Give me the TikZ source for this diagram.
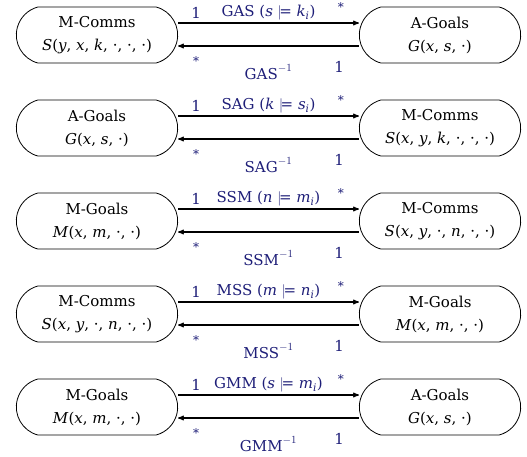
\documentclass[tikz,border=0pt]{standalone}
\usepackage{amsmath,amssymb}
\usepackage{fontspec}
\setmainfont{DejaVu Serif}
\usetikzlibrary{arrows,shapes.misc}
\definecolor{labblue}{RGB}{30,30,120}
\newcommand{\vv}[1]{\textit{#1}}
\newcommand{\sub}[1]{\textsubscript{\textit{#1}}}

\begin{document}
\begin{tikzpicture}[x=1pt,y=-1pt,>=stealth',
		box/.style={draw,line width=0.8pt,rounded rectangle,rounded rectangle arc length=150,
			minimum width=168pt,minimum height=56pt,align=center,
			font=\fontsize{15}{23}\selectfont},
		lab/.style={text=labblue,font=\fontsize{15}{18}\selectfont,inner sep=0pt},
		mult/.style={text=labblue,font=\fontsize{12}{14}\selectfont,inner sep=0pt}]
		\useasboundingbox (0,0) rectangle (527,456);
		% row 1
		\node[box] (l1) at (97,35) {M-Comms\\\vv{S}(\vv{y}, \vv{x}, \vv{k}, ·, ·, ·)};
		\node[box] (r1) at (440,35) {A-Goals\\\vv{G}(\vv{x}, \vv{s}, ·)};
		% row 2
		\node[box] (l2) at (97,128) {A-Goals\\\vv{G}(\vv{x}, \vv{s}, ·)};
		\node[box] (r2) at (440,128) {M-Comms\\\vv{S}(\vv{x}, \vv{y}, \vv{k}, ·, ·, ·)};
		% row 3
		\node[box] (l3) at (97,221) {M-Goals\\\vv{M}(\vv{x}, \vv{m}, ·, ·)};
		\node[box] (r3) at (440,221) {M-Comms\\\vv{S}(\vv{x}, \vv{y}, ·, \vv{n}, ·, ·)};
		% row 4
		\node[box] (l4) at (97,314) {M-Comms\\\vv{S}(\vv{x}, \vv{y}, ·, \vv{n}, ·, ·)};
		\node[box] (r4) at (440,314) {M-Goals\\\vv{M}(\vv{x}, \vv{m}, ·, ·)};
		% row 5
		\node[box] (l5) at (97,407) {M-Goals\\\vv{M}(\vv{x}, \vv{m}, ·, ·)};
		\node[box] (r5) at (440,407) {A-Goals\\\vv{G}(\vv{x}, \vv{s}, ·)};

		\draw[->,line width=1.1pt] ([yshift=12pt]l1.east) -- node[lab,yshift=10pt]{GAS (\vv{s} $\models$ \vv{k}\sub{i})}
			node[lab,pos=0.1,yshift=10pt]{1} node[mult,pos=0.9,yshift=16pt]{*} ([yshift=12pt]r1.west);
		\draw[->,line width=1.1pt] ([yshift=-11pt]r1.west) -- node[lab,yshift=-26pt]{GAS$^{-1}$}
			node[lab,pos=0.11,yshift=-21pt]{1} node[mult,pos=0.9,yshift=-15pt]{*} ([yshift=-11pt]l1.east);

		\draw[->,line width=1.1pt] ([yshift=12pt]l2.east) -- node[lab,yshift=10pt]{SAG (\vv{k} $\models$ \vv{s}\sub{i})}
			node[lab,pos=0.1,yshift=10pt]{1} node[mult,pos=0.9,yshift=16pt]{*} ([yshift=12pt]r2.west);
		\draw[->,line width=1.1pt] ([yshift=-11pt]r2.west) -- node[lab,yshift=-26pt]{SAG$^{-1}$}
			node[lab,pos=0.11,yshift=-21pt]{1} node[mult,pos=0.9,yshift=-15pt]{*} ([yshift=-11pt]l2.east);

		\draw[->,line width=1.1pt] ([yshift=12pt]l3.east) -- node[lab,yshift=10pt]{SSM (\vv{n} $\models$ \vv{m}\sub{i})}
			node[lab,pos=0.1,yshift=10pt]{1} node[mult,pos=0.9,yshift=16pt]{*} ([yshift=12pt]r3.west);
		\draw[->,line width=1.1pt] ([yshift=-11pt]r3.west) -- node[lab,yshift=-26pt]{SSM$^{-1}$}
			node[lab,pos=0.11,yshift=-21pt]{1} node[mult,pos=0.9,yshift=-15pt]{*} ([yshift=-11pt]l3.east);

		\draw[->,line width=1.1pt] ([yshift=12pt]l4.east) -- node[lab,yshift=10pt]{MSS (\vv{m} $\models$ \vv{n}\sub{i})}
			node[lab,pos=0.1,yshift=10pt]{1} node[mult,pos=0.9,yshift=16pt]{*} ([yshift=12pt]r4.west);
		\draw[->,line width=1.1pt] ([yshift=-11pt]r4.west) -- node[lab,yshift=-26pt]{MSS$^{-1}$}
			node[lab,pos=0.11,yshift=-21pt]{1} node[mult,pos=0.9,yshift=-15pt]{*} ([yshift=-11pt]l4.east);

		\draw[->,line width=1.1pt] ([yshift=12pt]l5.east) -- node[lab,yshift=10pt]{GMM (\vv{s} $\models$ \vv{m}\sub{i})}
			node[lab,pos=0.1,yshift=10pt]{1} node[mult,pos=0.9,yshift=16pt]{*} ([yshift=12pt]r5.west);
		\draw[->,line width=1.1pt] ([yshift=-11pt]r5.west) -- node[lab,yshift=-26pt]{GMM$^{-1}$}
			node[lab,pos=0.11,yshift=-21pt]{1} node[mult,pos=0.9,yshift=-15pt]{*} ([yshift=-11pt]l5.east);
		\end{tikzpicture}
\end{document}
